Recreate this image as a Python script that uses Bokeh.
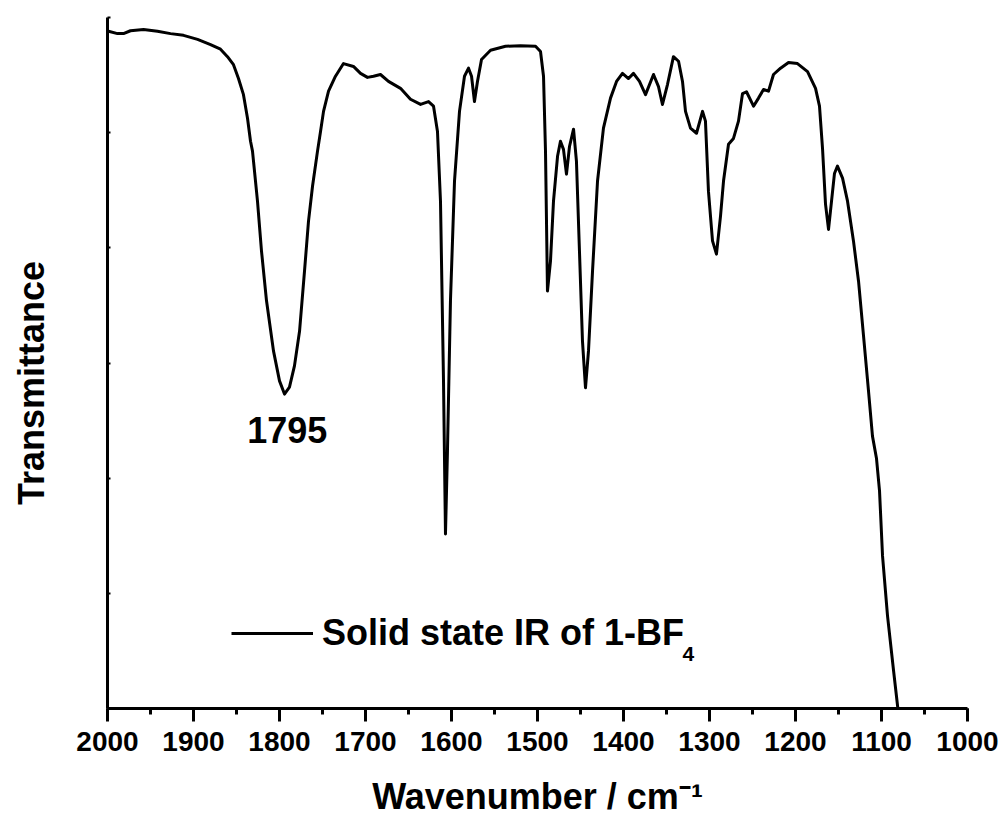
import math
from bokeh.plotting import figure
from bokeh.models import Range1d, SingleIntervalTicker, Label, Legend, LegendItem
from bokeh.embed import file_html
from bokeh.resources import INLINE

# ---- data ----
wavenumber = [1998.8, 1988.4, 1981.4, 1973.3, 1958.1, 1941.9, 1926.7, 1911.6, 1895.3, 1880.2,
              1868.6, 1860.5, 1853.5, 1847.7, 1841.9, 1837.2, 1833.7, 1831.4, 1825.6, 1820.9,
              1815.1, 1807.0, 1800.0, 1794.2, 1788.4, 1782.6, 1776.7, 1770.9, 1766.3, 1761.6,
              1755.8, 1752.3, 1748.8, 1743.0, 1734.9, 1725.6, 1714.0, 1705.8, 1697.7, 1690.7,
              1682.6, 1673.3, 1659.3, 1647.7, 1636.0, 1626.7, 1620.9, 1616.3, 1612.8,
              1609.3, 1607.0, 1604.7, 1601.2, 1596.5, 1590.7, 1584.9, 1580.2, 1576.7, 1573.3,
              1569.8, 1565.1, 1554.6, 1537.2, 1519.8, 1502.3, 1496.5, 1493.0, 1490.7, 1488.4,
              1484.9, 1481.4, 1476.7, 1473.3, 1469.8, 1466.3, 1462.8, 1458.1, 1454.7, 1451.2,
              1447.7, 1444.2, 1440.7, 1436.0, 1430.2, 1423.3, 1415.1, 1408.1, 1401.2, 1394.2,
              1388.4, 1381.4, 1374.4, 1365.1, 1359.3, 1354.7, 1348.8, 1341.9, 1336.0, 1331.4,
              1327.9, 1322.1, 1315.1, 1308.1, 1304.7, 1301.2, 1296.5, 1291.9, 1287.2, 1283.7,
              1277.9, 1272.1, 1266.3, 1261.6, 1257.0, 1248.8, 1243.0, 1237.2, 1231.4, 1225.6,
              1217.4, 1208.1, 1197.7, 1186.0, 1176.7, 1172.1, 1168.6, 1165.1, 1161.6, 1158.1,
              1154.7, 1151.2, 1145.3, 1139.5, 1132.6, 1126.7, 1120.9, 1115.1, 1110.5, 1105.8,
              1102.3, 1098.8, 1093.0, 1086.0, 1080.2]
transmittance = [117.6, 117.2, 117.2, 117.7, 117.9, 117.6, 117.2, 116.9, 116.2, 115.3,
                 114.5, 113.2, 111.8, 109.4, 106.6, 102.5, 98.5, 96.8, 88.1, 79.4,
                 70.8, 62.1, 56.9, 54.6, 55.8, 59.5, 65.5, 76.0, 84.6, 90.7,
                 96.8, 100.2, 103.7, 107.2, 109.8, 112.0, 111.5, 110.3, 109.6, 109.8,
                 110.1, 108.9, 107.7, 105.8, 104.9, 105.4, 104.6, 100.2, 88.1,
                 56.9, 30.3, 44.7, 70.8, 91.6, 103.7, 109.8, 111.2, 109.8, 105.4,
                 108.9, 112.7, 114.3, 115.0, 115.1, 115.0, 114.1, 109.8, 96.8, 72.5,
                 77.7, 88.1, 95.9, 98.5, 97.1, 92.8, 97.6, 100.6, 95.0, 79.4,
                 63.8, 55.7, 62.1, 76.0, 91.6, 100.8, 106.0, 108.9, 110.3, 109.4,
                 110.3, 108.9, 106.6, 110.1, 108.0, 104.9, 108.4, 113.2, 112.4, 108.9,
                 103.7, 100.8, 99.9, 103.7, 102.0, 89.8, 81.2, 78.9, 85.5, 91.6,
                 98.0, 99.0, 102.0, 106.8, 107.1, 104.6, 106.0, 107.5, 107.2, 110.1,
                 111.2, 112.2, 112.0, 110.6, 107.7, 104.6, 97.3, 87.6, 83.2, 88.1,
                 92.9, 94.2, 92.1, 88.1, 81.2, 74.2, 64.7, 55.1, 47.3, 43.4,
                 37.8, 26.5, 16.1, 6.6, -1.0]
peak_label = "1795"
peak_label_pos = (1791, 48.4)
x_label = "Wavenumber / cm\u207b\u00b9"
y_label = "Transmittance"
legend_label = "Solid state IR of 1-BF"
legend_sub = "4"
y_ticks = [0, 20, 40, 60, 80, 100, 120]

FONT = "Liberation Sans"

p = figure(frame_width=860, frame_height=691, output_backend="svg", toolbar_location=None,
           x_range=Range1d(2000, 1000), y_range=Range1d(0, 120),
           min_border_left=107, min_border_right=38, min_border_top=17, min_border_bottom=117,
           background_fill_color="white", border_fill_color="white")
p.outline_line_color = None
p.xgrid.visible = False
p.ygrid.visible = False

r = p.line(wavenumber, transmittance, line_color="black", line_width=3, line_join="round")

# bottom axis
xa = p.xaxis[0]
xa.ticker = SingleIntervalTicker(interval=100, num_minor_ticks=2)
xa.axis_line_width = 3
xa.major_tick_line_width = 3
xa.minor_tick_line_width = 3
xa.major_tick_out = 13
xa.major_tick_in = 0
xa.minor_tick_out = 6
xa.minor_tick_in = 0
xa.major_label_text_font = FONT
xa.major_label_text_font_style = "bold"
xa.major_label_text_font_size = "28px"
xa.major_label_text_color = "black"
xa.major_label_standoff = 10
xa.axis_label = x_label
xa.axis_label_text_font = FONT
xa.axis_label_text_font_style = "bold"
xa.axis_label_text_font_size = "36px"
xa.axis_label_text_color = "black"
xa.axis_label_standoff = 22

# left axis (ticks only, no numbers)
ya = p.yaxis[0]
ya.ticker = y_ticks
ya.axis_line_width = 3
ya.major_tick_line_width = 2
ya.major_tick_in = 3
ya.major_tick_out = 0
ya.minor_tick_line_color = None
ya.major_label_overrides = {t: "" for t in y_ticks}
ya.major_label_standoff = 0
ya.axis_label = y_label + "\u00a0" * 4
ya.axis_label_text_font = FONT
ya.axis_label_text_font_style = "bold"
ya.axis_label_text_font_size = "36px"
ya.axis_label_text_color = "black"
ya.axis_label_standoff = 56

# peak annotation
p.add_layout(Label(x=peak_label_pos[0], y=peak_label_pos[1], text=peak_label,
                   text_align="center", text_baseline="alphabetic",
                   text_font=FONT, text_font_style="bold", text_font_size="36px",
                   text_color="black"))

legend = Legend(items=[LegendItem(label=legend_label, renderers=[r])],
                location=(124, 54), glyph_width=82, label_standoff=9, padding=0, margin=0,
                border_line_color=None, background_fill_alpha=0,
                label_text_font=FONT, label_text_font_style="bold",
                label_text_font_size="36px", label_text_color="black")
p.add_layout(legend)
p.add_layout(Label(x=575, y=55, x_units="screen", y_units="screen", text=legend_sub,
                   text_align="left", text_baseline="alphabetic",
                   text_font=FONT, text_font_style="bold", text_font_size="21px",
                   text_color="black"))

open("out.html", "w").write(file_html(p, INLINE))
